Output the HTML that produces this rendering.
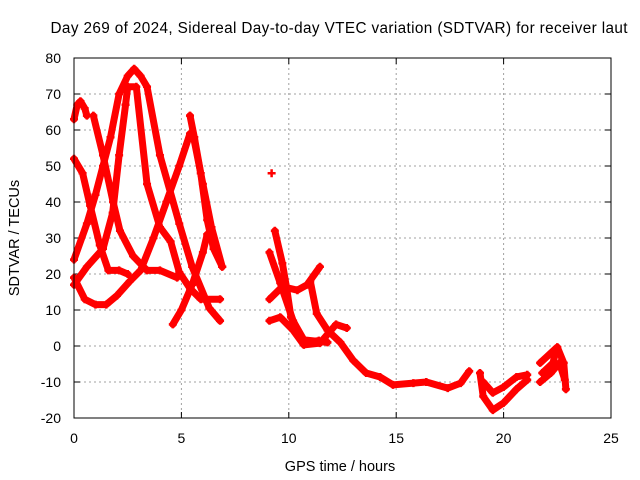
<!DOCTYPE html>
<html><head><meta charset="utf-8"><style>
body{margin:0;background:#fff}
svg{display:block;font-family:"Liberation Sans",sans-serif}
</style></head><body>
<svg id="chart" width="640" height="480">
<text x="339" y="33" text-anchor="middle" font-size="15.3" textLength="577" lengthAdjust="spacing">Day 269 of 2024, Sidereal Day-to-day VTEC variation (SDTVAR) for receiver laut</text>
<text transform="translate(19,238) rotate(-90)" text-anchor="middle" font-size="14.5">SDTVAR / TECUs</text>
<text x="340" y="471" text-anchor="middle" font-size="14.5">GPS time / hours</text>
<g id="grid"></g><g id="series"></g>
<rect x="74" y="58" width="537" height="360" fill="none" stroke="#000" stroke-width="1"/>
</svg>
<script>
const xTicks=[0,5,10,15,20,25];
const yTicks=[-20,-10,0,10,20,30,40,50,60,70,80];
const arcT1=[[0,63],[0.15,67],[0.3,68],[0.5,66],[0.6,64]];
const arcT2=[[0.9,64],[1.35,53],[1.82,40],[2.14,32],[2.75,25],[3.4,21],[4.0,21],[4.8,19]];
const arcT3=[[0,52],[0.4,48],[0.75,39],[1.2,28],[1.6,21],[2.1,21],[2.5,20]];
const arcT4=[[0,24],[0.6,34],[1.0,42],[1.35,50],[1.7,58],[2.1,70],[2.5,75],[2.8,77],[3.1,75],[3.4,72],[4.0,53],[4.9,34],[5.5,22],[6.3,10.5],[6.8,7]];
const arcT5=[[0,17],[0.6,22],[1.35,27],[1.8,37],[2.1,53],[2.4,67],[2.5,72],[2.9,72],[3.4,45],[4.0,33],[4.5,29],[4.9,20.5],[5.4,16],[5.9,13],[6.8,13]];
const arcT6=[[0,19],[0.5,13],[1.0,11.5],[1.5,11.5],[2.0,14],[2.6,18],[3.1,21],[3.7,30],[4.3,40],[4.9,50],[5.4,59],[5.6,57],[6.0,45],[6.4,33],[6.9,22]];
const arcT7=[[4.6,6],[5.0,10],[5.5,17],[6.0,26],[6.2,31]];
const arcT8=[[5.4,64],[5.6,58],[5.9,48],[6.2,35],[6.5,27],[6.9,22]];
const arcT9=[[9.2,48]];
const arcT10=[[9.35,32],[9.7,23],[9.9,16],[10.1,8],[10.7,1.7],[11.8,1]];
const arcT11=[[9.1,26],[9.6,17.5],[10.2,7],[10.7,1],[11.4,1.5]];
const arcT12=[[9.1,13],[9.7,16.5],[10.4,15.5],[10.85,17],[11.45,22]];
const arcT13=[[11.0,18],[11.3,9],[11.8,4.4],[12.4,1],[13.0,-4],[13.6,-7.5],[14.25,-8.6],[14.85,-10.8],[15.8,-10.3],[16.4,-10],[17.4,-11.7],[18.0,-10.3],[18.4,-7]];
const arcT14=[[9.1,7],[9.6,8],[10.2,4.4],[10.7,0.3],[11.45,0.8],[12.2,6],[12.7,5]];
const arcT15=[[18.9,-7.5],[19.05,-14],[19.5,-17.8],[20.0,-15.8],[20.6,-12],[21.1,-9.4]];
const arcT16=[[19.05,-10],[19.5,-13],[20.0,-11.4],[20.6,-8.6],[21.1,-8]];
const arcT17=[[21.7,-4.7],[22.5,-0.3],[22.8,-4.7],[22.9,-12]];
const arcT18=[[21.7,-10],[22.2,-7.5],[22.6,-4.7],[22.85,-9.4]];
const arcT19=[[21.8,-7.5],[22.3,-4.7],[22.45,-1]];
const allArcs=[arcT1,arcT2,arcT3,arcT4,arcT5,arcT6,arcT7,arcT8,arcT9,arcT10,arcT11,arcT12,arcT13,arcT14,arcT15,arcT16,arcT17,arcT18,arcT19];

const NS='http://www.w3.org/2000/svg';
const X0=74,X1=611,Y0=418,Y1=58;
const xs=v=>X0+(v-0)/25*(X1-X0);
const ys=v=>Y0-(v+20)/100*(Y0-Y1);
function mk(t,a,p){const e=document.createElementNS(NS,t);for(const k in a)e.setAttribute(k,a[k]);p.appendChild(e);return e;}
const grid=document.getElementById('grid'),ser=document.getElementById('series');
xTicks.forEach(t=>{
  const x=xs(t);
  if(t>0&&t<25){const l=mk('line',{x1:x,x2:x,y1:Y1,y2:Y0,stroke:'#a0a0a0','stroke-dasharray':'2,3'},grid);
  
  }
  mk('line',{x1:x,x2:x,y1:Y0,y2:Y0-6,stroke:'#000'},grid);
  mk('line',{x1:x,x2:x,y1:Y1,y2:Y1+6,stroke:'#000'},grid);
  const tx=mk('text',{x:x,y:443,'text-anchor':'middle','font-size':'14'},grid);tx.textContent=t;
  
  
});
yTicks.forEach(t=>{
  const y=ys(t);
  if(t>-20&&t<80){const l=mk('line',{x1:X0,x2:X1,y1:y,y2:y,stroke:'#a0a0a0','stroke-dasharray':'2,3'},grid);
  
  }
  mk('line',{x1:X0,x2:X0+6,y1:y,y2:y,stroke:'#000'},grid);
  mk('line',{x1:X1,x2:X1-6,y1:y,y2:y,stroke:'#000'},grid);
  const tx=mk('text',{x:61,y:y+5,'text-anchor':'end','font-size':'14'},grid);tx.textContent=t;
  
  
});
allArcs.forEach((arc,i)=>{
  const g=mk('g',{},ser);
  
  
  if(arc.length>1){
    mk('polyline',{points:arc.map(p=>xs(p[0])+','+ys(p[1])).join(' '),fill:'none',stroke:'#ff0000','stroke-width':'7','stroke-linejoin':'round','stroke-linecap':'round'},g);
  }
  arc.forEach(p=>{
    const x=xs(p[0]),y=ys(p[1]);
    mk('path',{d:`M${x-4},${y}H${x+4}M${x},${y-4}V${y+4}`,stroke:'#ff0000','stroke-width':'2.5'},g);
  });
});
</script>
</body></html>
